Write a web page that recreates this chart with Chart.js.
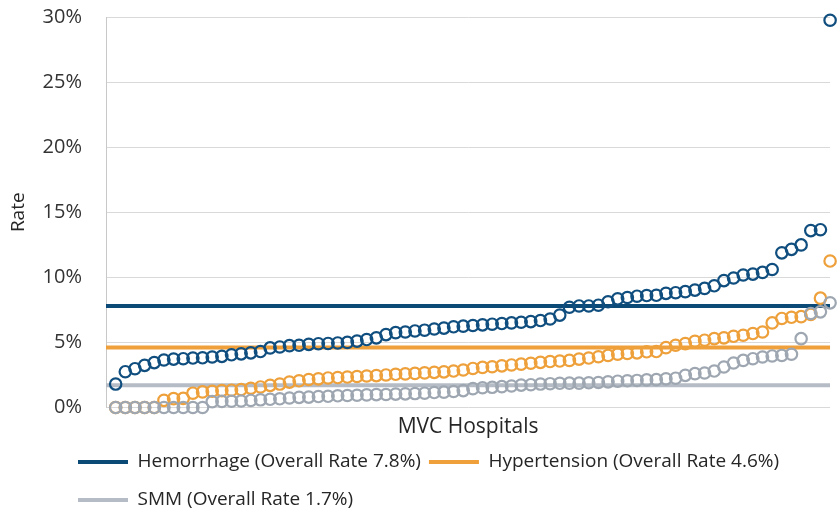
<!DOCTYPE html>
<html>
<head>
<meta charset="utf-8">
<script src="https://cdn.jsdelivr.net/npm/chart.js@4.4.1/dist/chart.umd.min.js"></script>
<style>
html,body{margin:0;padding:0;background:#ffffff;}
#wrap{width:838px;height:511px;position:relative;}
</style>
</head>
<body>
<div id="wrap"><canvas id="c" width="838" height="511"></canvas></div>
<script>
const seriesNames = ['Hemorrhage', 'Hypertension', 'SMM'];
const overallRates = [7.8, 4.6, 1.7];

const hemorrhage = [
  1.8, 2.75, 2.98, 3.24, 3.45, 3.65, 3.72, 3.75, 3.8, 3.82,
  3.88, 3.93, 4.05, 4.12, 4.2, 4.3, 4.58, 4.65, 4.75, 4.78,
  4.85, 4.9, 4.92, 4.96, 5.0, 5.1, 5.22, 5.35, 5.6, 5.75,
  5.8, 5.88, 5.94, 6.03, 6.1, 6.2, 6.25, 6.3, 6.35, 6.4,
  6.45, 6.5, 6.55, 6.6, 6.68, 6.8, 7.1, 7.7, 7.8, 7.8,
  7.86, 8.12, 8.35, 8.45, 8.55, 8.6, 8.62, 8.77, 8.82, 8.9,
  9.02, 9.15, 9.35, 9.75, 9.95, 10.18, 10.25, 10.38, 10.6, 11.88,
  12.15, 12.49, 13.59, 13.66, 29.75
];

const hypertension = [
  0, 0, 0, 0, 0, 0.55, 0.68, 0.7, 1.1, 1.2,
  1.25, 1.3, 1.33, 1.38, 1.48, 1.58, 1.7, 1.8, 1.95, 2.05,
  2.15, 2.2, 2.27, 2.3, 2.34, 2.38, 2.42, 2.45, 2.5, 2.55,
  2.58, 2.62, 2.66, 2.7, 2.74, 2.8, 2.88, 3.0, 3.08, 3.13,
  3.2, 3.27, 3.33, 3.4, 3.47, 3.53, 3.57, 3.62, 3.72, 3.8,
  3.9, 4.0, 4.1, 4.15, 4.2, 4.28, 4.3, 4.6, 4.78, 4.91,
  5.09, 5.17, 5.29, 5.35, 5.47, 5.55, 5.68, 5.8, 6.5, 6.84,
  6.93, 6.98, 7.15, 8.4, 11.25
];

const smm = [
  0, 0, 0, 0, 0, 0, 0, 0, 0, 0,
  0.45, 0.47, 0.48, 0.5, 0.54, 0.59, 0.63, 0.67, 0.73, 0.78,
  0.8, 0.84, 0.86, 0.9, 0.92, 0.94, 0.97, 0.99, 1.0, 1.03,
  1.05, 1.07, 1.1, 1.15, 1.18, 1.23, 1.3, 1.45, 1.52, 1.55,
  1.6, 1.65, 1.72, 1.75, 1.8, 1.83, 1.86, 1.87, 1.87, 1.9,
  1.92, 1.97, 2.02, 2.05, 2.08, 2.12, 2.14, 2.2, 2.25, 2.47,
  2.6, 2.65, 2.8, 3.11, 3.42, 3.62, 3.75, 3.88, 3.96, 4.0,
  4.09, 5.29, 7.22, 7.35, 8.04
];

const yTickValues = [0, 5, 10, 15, 20, 25, 30];
const xTitle = 'MVC Hospitals';
const yTitle = 'Rate';

const lineColors = ['#0b4a77', '#f0a03a', '#b5bcc5'];
const markerColors = ['#0f4e7e', '#eea03b', '#9ea7b1'];

const seriesValues = [hemorrhage, hypertension, smm];
const ranks = hemorrhage.map((_, i) => i + 1);
const xMax = ranks.length;

// legend geometry
const LEG_TOP = 439, LEG_PAD = 8, LEG_ITEM_H = 30, LEG_LINE_W = 4, CANVAS_H = 511;

const datasets = [];
seriesNames.forEach((name, i) => {
  datasets.push({
    type: 'line',
    label: name + ' (Overall Rate ' + overallRates[i].toFixed(1) + '%)',
    data: [{x: 0, y: overallRates[i]}, {x: xMax, y: overallRates[i]}],
    borderColor: lineColors[i],
    backgroundColor: lineColors[i],
    borderWidth: 4,
    pointRadius: 0,
    showLine: true,
    fill: false,
    order: 10
  });
});
const markerOrder = [3, 2, 1];
seriesNames.forEach((name, i) => {
  datasets.push({
    type: 'scatter',
    label: name + ' hospitals',
    data: ranks.map((r, j) => ({x: r, y: seriesValues[i][j]})),
    borderColor: markerColors[i],
    backgroundColor: 'rgba(0,0,0,0)',
    pointRadius: 5.7,
    pointBorderWidth: 2.2,
    showLine: false,
    clip: false,
    order: markerOrder[i]
  });
});

// legend swatch: a thin horizontal band painted inside a taller legend box
function bandFill(ctx, color) {
  const g = ctx.createLinearGradient(0, 0, 0, CANVAS_H);
  const clear = 'rgba(255,255,255,0)';
  const stops = [];
  for (let row = 0; row < 2; row++) {
    const c = LEG_TOP + LEG_PAD + row * (LEG_ITEM_H + LEG_PAD) + LEG_ITEM_H / 2;
    stops.push([(c - LEG_LINE_W / 2) / CANVAS_H, (c + LEG_LINE_W / 2) / CANVAS_H]);
  }
  g.addColorStop(0, clear);
  stops.forEach(([a, b]) => {
    g.addColorStop(a, clear);
    g.addColorStop(a, color);
    g.addColorStop(b, color);
    g.addColorStop(b, clear);
  });
  g.addColorStop(1, clear);
  return g;
}

const legendShift = {
  id: 'legendShift',
  beforeDraw(chart) {
    const lg = chart.legend;
    if (!lg) return;
    lg.left = 78 - LEG_PAD;
    lg.top = LEG_TOP;
    lg.bottom = CANVAS_H;
    lg.height = lg.bottom - lg.top;
    lg.width = lg.right - lg.left;
  }
};

Chart.defaults.font.family = "'Open Sans', 'Noto Sans', sans-serif";
Chart.defaults.color = '#404040';

new Chart(document.getElementById('c'), {
  type: 'scatter',
  data: {datasets},
  options: {
    responsive: false,
    animation: false,
    events: [],
    layout: {padding: {left: 7, right: 4, top: 17, bottom: 0}},
    plugins: {
      tooltip: {enabled: false},
      legend: {
        display: true,
        position: 'bottom',
        align: 'start',
        maxHeight: 60,
        labels: {
          filter: (item) => item.datasetIndex < seriesNames.length,
          generateLabels: (chart) => {
            const items = Chart.defaults.plugins.legend.labels.generateLabels(chart);
            return items.map((it) => {
              const ds = chart.data.datasets[it.datasetIndex];
              if (it.datasetIndex < seriesNames.length) {
                it.fillStyle = bandFill(chart.ctx, ds.borderColor);
                it.lineWidth = 0;
                it.strokeStyle = 'rgba(0,0,0,0)';
              }
              return it;
            });
          },
          boxWidth: 50,
          boxHeight: LEG_ITEM_H,
          padding: LEG_PAD,
          color: '#262626',
          font: {size: 19}
        }
      }
    },
    scales: {
      x: {
        type: 'linear',
        min: 0,
        max: xMax,
        grid: {display: false},
        border: {display: false},
        ticks: {display: false},
        title: {
          display: true,
          text: xTitle,
          color: '#262626',
          font: {size: 21},
          padding: {top: 0, bottom: 11.4}
        },
        afterFit: (s) => { s.height = 43.5; }
      },
      y: {
        type: 'linear',
        min: 0,
        max: 30,
        afterBuildTicks: (s) => { s.ticks = yTickValues.map(v => ({value: v})); },
        ticks: {
          padding: 24,
          color: '#333333',
          font: {size: 20},
          callback: (v) => v + '%'
        },
        grid: {color: '#d9d9d9', lineWidth: 1, drawTicks: false},
        border: {display: true, color: '#c8c8c8', width: 1},
        title: {
          display: true,
          text: yTitle,
          color: '#262626',
          font: {size: 19},
          padding: {top: 0, bottom: 0}
        },
        afterFit: (s) => { s.width = 99; s.paddingTop = 0; s.paddingBottom = 0; }
      }
    }
  },
  plugins: [legendShift]
});
</script>
</body>
</html>
